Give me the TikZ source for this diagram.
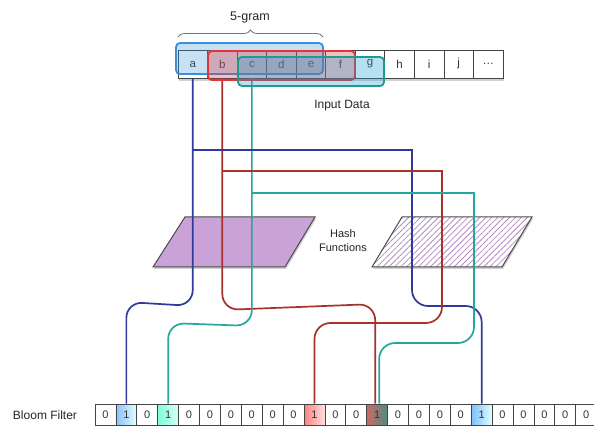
\documentclass[tikz,border=0pt]{standalone}
\usepackage{fontspec}
\setmainfont{Liberation Sans}
\usetikzlibrary{decorations.pathreplacing,patterns.meta}

\definecolor{wireA}{HTML}{2E3A9C}
\definecolor{wireB}{HTML}{A8322A}
\definecolor{wireC}{HTML}{22A89C}
\definecolor{boxA}{HTML}{3A90DA}
\definecolor{boxB}{HTML}{E0363A}
\definecolor{boxC}{HTML}{1C9C8E}
\definecolor{cellline}{HTML}{444444}
\definecolor{celltext}{HTML}{333333}
\definecolor{hashfill}{HTML}{C9A2D8}
\definecolor{hashline}{HTML}{4A4A4A}
\definecolor{hatch}{HTML}{B48CC4}
\definecolor{hitBL}{HTML}{C86A66}
\definecolor{hitCR}{HTML}{4C8C86}

\begin{document}
\begin{tikzpicture}[x=1pt,y=-1pt,
  incell/.style={draw=cellline, fill=white, line width=0.8pt,
    minimum width=29.55pt, minimum height=28pt, inner sep=0pt,
    font=\fontsize{11.5}{13}\selectfont, text=celltext},
  bcell/.style={draw=cellline, fill=white, line width=0.8pt,
    minimum width=20.9pt, minimum height=21pt, inner sep=0pt,
    font=\fontsize{11}{13}\selectfont, text=celltext},
  gram/.style={rounded corners=4pt, line width=1.8pt, inner sep=0pt},
  wire/.style={line width=1.7pt},
  curvy/.style={rounded corners=16pt},
  caption/.style={font=\fontsize{12}{14}\selectfont, text=black!85},
  plain/.style={},
  hitA/.style={left color=cyan!45!blue!45, right color=cyan!10},
  hitC/.style={left color=green!35!cyan!50, right color=green!10!cyan!15},
  hitB/.style={left color=red!50, right color=red!12},
  hitBC/.style={left color=hitBL, right color=hitCR},
  hitA2/.style={left color=cyan!50!blue!50, right color=cyan!12},
]
\fill[white] (0,0) rectangle (594,430);
\useasboundingbox (0,0) rectangle (594,430);

% brace and caption above the input row
\draw[decorate, decoration={brace, amplitude=7pt}, black!55, line width=0.8pt]
  (178,37) -- (323,37);
\node[caption, font=\fontsize{12.5}{14}\selectfont] (ngram) at (250,18) {5-gram};

% shadow and cells of the input row
\fill[black!18] (179,53) rectangle (504,81);
\foreach \t [count=\i] in {a,b,c,d,e,f,g,h,i,j,\ldots}
  \node[incell] (in\i) at ({178+29.55*(\i-0.5)},64) {\t};

\node[caption] (indata) at (342,106) {Input Data};

% hash functions
\fill[black!18] (186,219) -- (316,219) -- (286,269) -- (154,269) -- cycle;
\filldraw[fill=hashfill, draw=hashline, line width=1pt]
  (185,217) -- (315,217) -- (285,267) -- (153,267) -- cycle;
\fill[black!18] (403,219) -- (533,219) -- (503,269) -- (373,269) -- cycle;
\fill[white] (402,217) -- (532,217) -- (502,267) -- (372,267) -- cycle;
\path[pattern={Lines[angle=45,distance=4.2pt,line width=0.8pt]}, pattern color=hatch]
  (402,217) -- (532,217) -- (502,267) -- (372,267) -- cycle;
\draw[draw=hashline, line width=1pt]
  (402,217) -- (532,217) -- (502,267) -- (372,267) -- cycle;
\node[caption, align=center, font=\fontsize{11}{14}\selectfont] (hash) at (343,241) {Hash\\Functions};

% bloom filter row
\node[caption] (bloom) at (45,415) {Bloom Filter};
\foreach \v/\s [count=\i] in {0/plain,1/hitA,0/plain,1/hitC,0/plain,0/plain,0/plain,0/plain,
    0/plain,0/plain,1/hitB,0/plain,0/plain,1/hitBC,0/plain,0/plain,0/plain,0/plain,
    1/hitA2,0/plain,0/plain,0/plain,0/plain,0/plain}
  \node[bcell,\s] (bf\i) at ({95+20.9*(\i-0.5)},414.5) {\v};

% helper levels and columns for the wiring
\coordinate (lvA) at (0,150);
\coordinate (lvB) at (0,171);
\coordinate (lvC) at (0,193);
\coordinate (mid) at (0,250);
\coordinate (colA) at (412,0);
\coordinate (colB) at (442,0);
\coordinate (colC) at (474,0);
\coordinate (hA1) at (0,306);
\coordinate (hA2) at (0,302);
\coordinate (hB1) at (0,310);
\coordinate (hB2) at (0,304);
\coordinate (hC1) at (0,326);
\coordinate (hC2) at (0,323);
\coordinate (hAr) at (0,306);
\coordinate (hBr) at (0,323);
\coordinate (hCr) at (0,343);
\coordinate (bf14L) at ([xshift=-2pt]bf14.north);
\coordinate (bf14R) at ([xshift=2pt]bf14.north);

% first hash function: straight down and bend to the filter
\draw[wire, wireA, curvy] (in1.south) -- (in1 |- hA1) -- (bf2 |- hA2) -- (bf2.north);
\draw[wire, wireB, curvy] (in2.south) -- (in2 |- hB1) -- (bf14L |- hB2) -- (bf14L);
\draw[wire, wireC, curvy] (in3.south) -- (in3 |- hC1) -- (bf4 |- hC2) -- (bf4.north);

% second hash function: taps to the right
\draw[wire, wireA] (in1 |- lvA) -- (colA |- lvA) -- (colA |- mid);
\draw[wire, wireB] (in2 |- lvB) -- (colB |- lvB) -- (colB |- mid);
\draw[wire, wireC] (in3 |- lvC) -- (colC |- lvC) -- (colC |- mid);
\draw[wire, wireA, curvy] (colA |- mid) -- (colA |- hAr) -- (bf19 |- hAr) -- (bf19.north);
\draw[wire, wireB, curvy] (colB |- mid) -- (colB |- hBr) -- (bf11 |- hBr) -- (bf11.north);
\draw[wire, wireC, curvy] (colC |- mid) -- (colC |- hCr) -- (bf14R |- hCr) -- (bf14R);

% 5-gram windows over the input row
\node[gram, draw=boxA, fill=boxA, fill opacity=0.28, minimum width=147pt, minimum height=31pt]
  (gramA) at (249.5,58.5) {};
\node[gram, draw=boxB, fill=boxB, fill opacity=0.32, minimum width=147pt, minimum height=29pt]
  (gramB) at (281.5,65.5) {};
\node[gram, draw=boxC, fill=cyan!70!teal, fill opacity=0.32, minimum width=146pt, minimum height=29pt]
  (gramC) at (311,71.5) {};
\end{tikzpicture}
\end{document}
